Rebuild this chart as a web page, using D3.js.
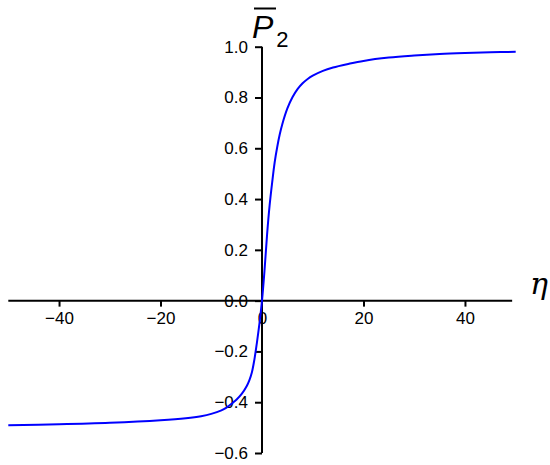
<!DOCTYPE html>
<html lang="en">
<head>
  <meta charset="UTF-8">
  <title>P2 vs eta</title>
  <script src="https://d3js.org/d3.v7.min.js"></script>
  <style>
    body { margin: 0; background: #fff; }
    svg { display: block; }
  </style>
</head>
<body>
<svg width="550" height="465"></svg>
<script>
  // values
  const eta = [-50, -40, -30, -20, -15, -12, -10, -8, -7, -6, -5, -4, -3, -2.5, -2, -1.5, -1, -0.5,
               0, 0.5, 1, 1.5, 2, 2.5, 3, 3.5, 4, 5, 6, 7, 8, 9, 10, 12, 14, 17, 20, 25, 30, 35, 40, 45, 50];
  const p2 = [-0.491, -0.487, -0.481, -0.471, -0.463, -0.455, -0.446, -0.432, -0.421, -0.406, -0.389, -0.367, -0.336, -0.314, -0.283, -0.232, -0.165, -0.09,
              0.0, 0.12, 0.26, 0.375, 0.465, 0.545, 0.605, 0.655, 0.695, 0.757, 0.801, 0.833, 0.856, 0.873, 0.886, 0.905, 0.918, 0.932, 0.944, 0.957, 0.965, 0.971, 0.975, 0.978, 0.98];
  const xTicks = [-40, -20, 0, 20, 40];
  const yTicks = [-0.6, -0.4, -0.2, 0.0, 0.2, 0.4, 0.6, 0.8, 1.0];

  const svg = d3.select("svg");
  const font = "'Liberation Sans', Arial, sans-serif";

  const x = d3.scaleLinear().domain([-50, 50]).range([8.3, 515.7]);
  const y = d3.scaleLinear().domain([-0.6, 1.0]).range([453, 46.7]);

  const data = eta.map((e, i) => ({ e: e, p: p2[i] }));

  const line = d3.line()
    .x(d => x(d.e))
    .y(d => y(d.p))
    .curve(d3.curveCatmullRom.alpha(0.5));

  // x axis through y = 0
  const xAxis = d3.axisBottom(x)
    .tickValues(xTicks)
    .tickSize(6)
    .tickPadding(5)
    .tickFormat(d3.format("d"));

  const gx = svg.append("g")
    .attr("transform", `translate(0,${y(0)})`)
    .call(xAxis)
    .attr("font-size", 17)
    .attr("font-family", font);
  gx.select(".domain").attr("d", `M${x(-50)},0H${x(49.3)}`).attr("stroke", "#000").attr("stroke-width", 2);
  gx.selectAll(".tick line").attr("stroke", "#000").attr("stroke-width", 2);
  gx.selectAll(".tick text").attr("fill", "#000");
  gx.selectAll(".tick").filter(d => d === 0).select("line").remove();

  // y axis through x = 0
  const yAxis = d3.axisLeft(y)
    .tickValues(yTicks)
    .tickSize(7)
    .tickPadding(7)
    .tickFormat(d3.format(".1f"));

  const gy = svg.append("g")
    .attr("transform", `translate(${x(0)},0)`)
    .call(yAxis)
    .attr("font-size", 17)
    .attr("font-family", font);
  gy.select(".domain").attr("d", `M0,${y(1.0)}V${y(-0.6)}`).attr("stroke", "#000").attr("stroke-width", 2);
  gy.selectAll(".tick line").attr("stroke", "#000").attr("stroke-width", 2);
  gy.selectAll(".tick text").attr("fill", "#000");

  // curve
  svg.append("path")
    .datum(data)
    .attr("fill", "none")
    .attr("stroke", "#0000ff")
    .attr("stroke-width", 2)
    .attr("d", line);

  // axis titles
  const yt = svg.append("text")
    .attr("x", 252)
    .attr("y", 38)
    .attr("font-family", font)
    .attr("font-size", 32)
    .attr("font-style", "italic");
  yt.append("tspan").text("P");
  yt.append("tspan")
    .attr("dx", 3)
    .attr("dy", 9)
    .attr("font-size", 22)
    .attr("font-style", "normal")
    .text("2");
  svg.append("line")
    .attr("x1", 254).attr("x2", 276)
    .attr("y1", 8.5).attr("y2", 8.5)
    .attr("stroke", "#000")
    .attr("stroke-width", 2);

  svg.append("text")
    .attr("x", 530)
    .attr("y", 294)
    .attr("font-size", 30)
    .attr("font-style", "italic")
    .attr("font-family", "'DejaVu Serif', serif")
    .text("η");
</script>
</body>
</html>
